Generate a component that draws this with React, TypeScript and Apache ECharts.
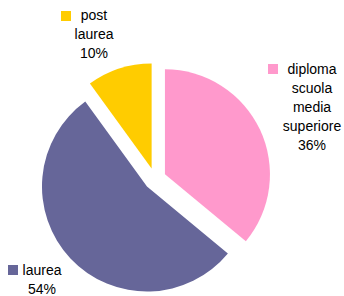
import React, { useEffect, useRef } from "react";
import * as echarts from "echarts";

const categories = ["diploma scuola media superiore", "laurea", "post laurea"];
const labelLines = ["diploma\nscuola\nmedia\nsuperiore", "laurea", "post\nlaurea"];
const values = [36, 54, 10];
const colors = ["#FF99CC", "#666699", "#FFCC00"];

// label layout (center x, top y) and legend square (x, y)
const labelPos = [
  [312, 59],
  [42, 260],
  [94, 5],
];
const squarePos = [
  [268, 64],
  [8, 265],
  [61, 11],
];

export default function App() {
  const ref = useRef<HTMLDivElement>(null);
  useEffect(() => {
    if (!ref.current) return;
    const chart = echarts.init(ref.current, undefined, { renderer: "svg" });
    const font = "'Liberation Sans', Arial, sans-serif";
    const squares = squarePos.map((p, i) => ({
      type: "rect",
      shape: { x: p[0], y: p[1], width: 10, height: 10 },
      style: { fill: colors[i] },
      silent: true,
    }));
    const texts = labelPos.map((p, i) => ({
      type: "text",
      x: p[0],
      y: p[1],
      silent: true,
      style: {
        text: `${labelLines[i]}\n${values[i]}%`,
        fill: "#000",
        fontSize: 14,
        fontFamily: font,
        lineHeight: 19,
        align: "center",
        verticalAlign: "top",
      },
    }));
    chart.setOption({
      animation: false,
      backgroundColor: "#ffffff",
      graphic: [...squares, ...texts],
      series: [
        {
          type: "pie",
          center: [155, 179],
          radius: 105,
          startAngle: 90,
          clockwise: true,
          selectedMode: "multiple",
          selectedOffset: 11,
          emphasis: { disabled: true },
          itemStyle: { borderWidth: 0 },
          labelLine: { show: false },
          label: { show: false },
          data: categories.map((name, i) => ({
            name,
            value: values[i],
            selected: true,
            itemStyle: { color: colors[i], borderWidth: 0 },
            select: { itemStyle: { color: colors[i], borderWidth: 0 } },
          })),
        },
      ],
    });
    return () => chart.dispose();
  }, []);
  return (
    <div
      ref={ref}
      style={{ position: "fixed", left: 0, top: 0, width: 344, height: 296 }}
    />
  );
}
